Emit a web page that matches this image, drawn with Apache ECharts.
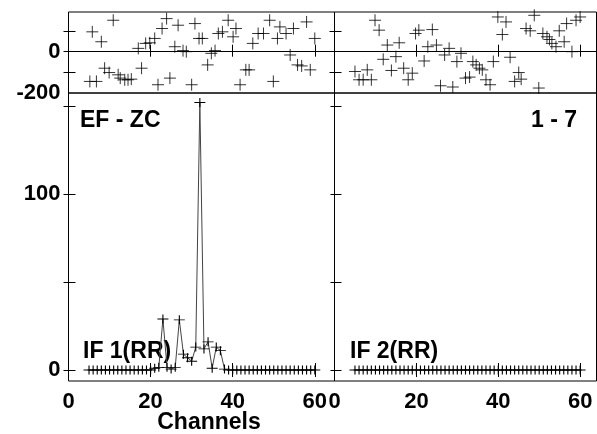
<!DOCTYPE html>
<html><head><meta charset="utf-8">
<script src="https://cdn.jsdelivr.net/npm/echarts@6/dist/echarts.min.js"></script>
<style>html,body{margin:0;padding:0;background:#fff}#c{width:597px;height:434px}</style>
</head><body><div id="c"></div>
<script>
// ---- data ----
const channels = [5,6,7,8,9,10,11,12,13,14,15,16,17,18,19,20,21,22,23,24,25,26,27,28,29,30,31,32,33,34,35,36,37,38,39,40,41,42,43,44,45,46,47,48,49,50,51,52,53,54,55,56,57,58,59,60];
const ampIF1 = [0,0,0,0,0,0,0,0,0,0,0,0,0,0,0,0,
  1,1.5,29,1.5,0.5,1.5,28.5,9,7,5,13,152,12,16,1,13,11,0.5,
  0,0,0,0,0,0,0,0,0,0,0,0,0,0,0,0,0,0,0,0,0,0];
const ampIF2 = [0,0,0,0,0,0,0,0,0,0,0,0,0,0,0,0,0,0,0,0,0,0,0,0,0,0,0,0,0,0,0,0,0,0,0,0,0,0,0,0,0,0,0,0,0,0,0,0,0,0,0,0,0,0,0,0];
const phaseIF1 = [[5.2,-144],[5.8,96],[6.8,-144],[8.0,48],[8.8,-80],[9.9,-101],[10.9,152],[12.1,-112],[12.6,-128],[13.7,-136],[14.5,-136],[15.3,-133],[17.0,16],[17.8,-80],[18.8,40],[19.8,43],[21.0,64],[21.8,-160],[22.8,112],[23.9,160],[24.7,-128],[25.9,24],[26.7,128],[27.9,5],[28.7,0],[30.0,-160],[30.8,136],[31.8,64],[32.6,64],[33.9,-64],[34.8,-8],[35.7,5],[36.5,88],[37.5,96],[38.9,152],[40.1,72],[40.8,112],[41.8,-160],[43.2,-88],[44.0,-88],[44.9,40],[46.2,88],[47.5,88],[49.0,152],[49.9,-144],[50.9,64],[51.5,120],[53.0,88],[54.0,-16],[54.8,112],[55.8,-64],[56.8,-69],[58.0,144],[58.9,-88],[60.0,64]];
const phaseIF2 = [[5.0,-96],[6.0,-136],[7.0,-136],[8.0,-88],[9.0,-136],[9.9,152],[10.9,104],[11.9,-37],[12.9,32],[13.9,-91],[15.0,-24],[15.8,43],[16.9,-80],[18.0,-136],[19.0,-104],[19.8,88],[20.6,104],[21.9,-45],[22.8,24],[23.9,107],[24.9,32],[25.9,-165],[26.9,-16],[28.0,16],[28.9,-171],[29.9,-48],[30.9,-8],[32.0,-128],[33.0,-123],[33.8,-48],[34.6,-64],[35.4,-80],[36.1,-88],[37.0,-136],[38.0,-160],[38.8,-48],[39.9,168],[41.0,83],[41.9,144],[42.9,-27],[44.0,-144],[45.0,-101],[45.6,-133],[46.8,112],[47.8,101],[48.8,176],[49.9,-176],[50.9,88],[51.9,72],[52.5,59],[53.1,40],[54.1,24],[54.9,101],[56.1,48],[56.7,136],[58.0,0],[59.0,152],[60.0,168]];
const xTickLabels = [0,20,40,60];
const xTicks = [20,40,60];
const phaseTickLabels = [-200,0];
const phaseTicks = [-100,0,100];
const ampTickLabels = [0,100];
const ampTicks = [0,50,100,150];
const panelTitles = ['EF - ZC','1 - 7'];
const ifLabels = ['IF 1(RR)','IF 2(RR)'];
const xTitle = 'Channels';

// ---- chart ----
const FONT = '"Liberation Sans", Arial, Helvetica, sans-serif';
const lab = {fontFamily: FONT, fontWeight: 'bold', fontSize: 22, color: '#000'};
const PLUS = 'path://M0,6H12M6,0V12';
const chart = echarts.init(document.getElementById('c'), null, {renderer: 'canvas'});

function xAx(g, pos, max, len, labels) {
  return {type: 'value', gridIndex: g, position: pos, min: 0, max: max,
    axisLine: {show: false}, splitLine: {show: false},
    axisTick: {show: true, inside: true, length: len, customValues: xTicks, lineStyle: {color: '#000', width: 1}},
    axisLabel: Object.assign({show: labels, margin: 10, customValues: xTickLabels}, lab)};
}
function yAx(g, pos, min, max, ticks, len, labels, labVals) {
  return {type: 'value', gridIndex: g, position: pos, min: min, max: max,
    axisLine: {show: false}, splitLine: {show: false},
    axisTick: {show: true, inside: true, length: len, customValues: ticks, lineStyle: {color: '#000', width: 1}},
    axisLabel: Object.assign({show: labels, margin: 8, customValues: labVals}, lab)};
}
const PMIN = -200, PMAX = 192, AMIN = -6.25, AMAX = 157.4;
const gridBase = {show: true, borderColor: '#000', borderWidth: 1, backgroundColor: 'transparent', containLabel: false};
const option = {
  animation: false,
  backgroundColor: '#fff',
  grid: [
    Object.assign({left: 68.5, top: 12, width: 266, height: 81}, gridBase),
    Object.assign({left: 334.5, top: 12, width: 262, height: 81}, gridBase),
    Object.assign({left: 68.5, top: 93, width: 266, height: 288}, gridBase),
    Object.assign({left: 334.5, top: 93, width: 262, height: 288}, gridBase)
  ],
  xAxis: [
    xAx(0, 'bottom', 64.8, 7, false), xAx(0, 'top', 64.8, 5, false),
    xAx(1, 'bottom', 64, 7, false), xAx(1, 'top', 64, 5, false),
    xAx(2, 'bottom', 64.8, 7, true), xAx(2, 'top', 64.8, 7, false),
    xAx(3, 'bottom', 64, 7, true), xAx(3, 'top', 64, 7, false)
  ],
  yAxis: [
    yAx(0, 'left', PMIN, PMAX, phaseTicks, 7, true, phaseTickLabels), yAx(0, 'right', PMIN, PMAX, phaseTicks, 5, false, phaseTickLabels),
    yAx(1, 'left', PMIN, PMAX, phaseTicks, 7, false, phaseTickLabels), yAx(1, 'right', PMIN, PMAX, phaseTicks, 5, false, phaseTickLabels),
    yAx(2, 'left', AMIN, AMAX, ampTicks, 7, true, ampTickLabels), yAx(2, 'right', AMIN, AMAX, ampTicks, 5, false, ampTickLabels),
    yAx(3, 'left', AMIN, AMAX, ampTicks, 7, false, ampTickLabels), yAx(3, 'right', AMIN, AMAX, ampTicks, 4, false, ampTickLabels)
  ],
  series: [
    {type: 'scatter', xAxisIndex: 0, yAxisIndex: 0, data: phaseIF1, symbol: PLUS, symbolSize: 12,
      itemStyle: {color: 'none', borderColor: '#000', borderWidth: 1},
      markLine: {silent: true, symbol: 'none', label: {show: false}, lineStyle: {color: '#000', type: 'solid', width: 1}, data: [{yAxis: 0}]}},
    {type: 'scatter', xAxisIndex: 2, yAxisIndex: 2, data: phaseIF2, symbol: PLUS, symbolSize: 12,
      itemStyle: {color: 'none', borderColor: '#000', borderWidth: 1},
      markLine: {silent: true, symbol: 'none', label: {show: false}, lineStyle: {color: '#000', type: 'solid', width: 1}, data: [{yAxis: 0}]}},
    {type: 'line', xAxisIndex: 4, yAxisIndex: 4, data: channels.map((c, i) => [c, ampIF1[i]]),
      symbol: PLUS, symbolSize: [11, 9], showSymbol: true, lineStyle: {color: '#444', width: 1},
      itemStyle: {color: 'none', borderColor: '#000', borderWidth: 1}},
    {type: 'line', xAxisIndex: 6, yAxisIndex: 6, data: channels.map((c, i) => [c, ampIF2[i]]),
      symbol: PLUS, symbolSize: [11, 9], showSymbol: true, lineStyle: {color: '#444', width: 1},
      itemStyle: {color: 'none', borderColor: '#000', borderWidth: 1}}
  ],
  graphic: [
    {type: 'text', x: 80, y: 121, style: {text: panelTitles[0], font: 'bold 23px ' + FONT, fill: '#000', textAlign: 'left', textVerticalAlign: 'middle'}},
    {type: 'text', x: 577, y: 121, style: {text: panelTitles[1], font: 'bold 23px ' + FONT, fill: '#000', textAlign: 'right', textVerticalAlign: 'middle'}},
    {type: 'text', x: 83, y: 352, style: {text: ifLabels[0], font: 'bold 23px ' + FONT, fill: '#000', textAlign: 'left', textVerticalAlign: 'middle'}},
    {type: 'text', x: 350, y: 352, style: {text: ifLabels[1], font: 'bold 23px ' + FONT, fill: '#000', textAlign: 'left', textVerticalAlign: 'middle'}},
    {type: 'text', x: 209, y: 423, style: {text: xTitle, font: 'bold 23px ' + FONT, fill: '#000', textAlign: 'center', textVerticalAlign: 'middle'}}
  ]
};
chart.setOption(option);
</script>
</body></html>
